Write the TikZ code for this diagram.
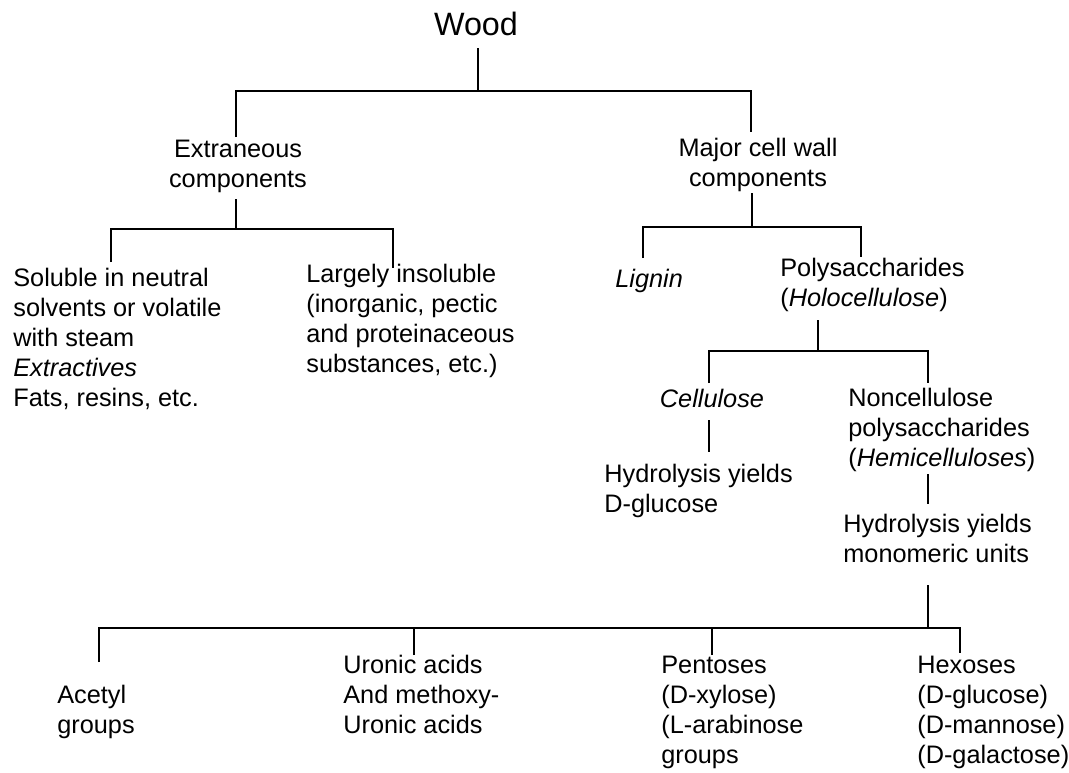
\documentclass[tikz,border=0pt]{standalone}
\usepackage{fontspec}
\setmainfont{Liberation Sans}
\usepackage{tikz}

\begin{document}
\begin{tikzpicture}[
    x=0.02cm, y=-0.02cm,
    % Style pour les textes alignés à gauche
    txtnode/.style={inner sep=0pt, anchor=north west, align=left, font=\fontsize{14.4}{17}\selectfont},
    % Style pour les textes centrés
    midnode/.style={txtnode, anchor=north, align=center},
    % Style pour les traits de liaison
    link/.style={draw, line width=1pt}
]
\useasboundingbox[fill=white] (0,0) rectangle (1069,772);

% Racine
\node[midnode, anchor=base, font=\fontsize{18.4}{21}\selectfont] (wood) at (476,35) {Wood};

% Premier niveau
\node[midnode] (extr) at (238,140) {Extraneous\\components};
\node[midnode] (major) at (758,138) {Major cell wall\\components};

% Composants extérieurs
\node[txtnode] (sol) at (13,268) {Soluble in neutral\\solvents or volatile\\with steam\\\textit{Extractives}\\Fats, resins, etc.};
\node[txtnode] (insol) at (306,264) {Largely insoluble\\(inorganic, pectic\\and proteinaceous\\substances, etc.)};

% Paroi cellulaire
\node[txtnode, anchor=base west] (lignin) at (615,287) {\textit{Lignin}};
\node[txtnode] (poly) at (780,258) {Polysaccharides\\(\textit{Holocellulose})};
\node[midnode, anchor=base] (cell) at (712,407) {\textit{Cellulose}};
\node[txtnode] (nonc) at (848,388) {Noncellulose\\polysaccharides\\(\textit{Hemicelluloses})};
\node[txtnode] (hydA) at (604,464) {Hydrolysis yields\\D-glucose};
\node[txtnode] (hydB) at (843,514) {Hydrolysis yields\\monomeric units};

% Unités monomères
\node[txtnode] (acet) at (57,685) {Acetyl\\groups};
\node[txtnode] (uron) at (343,655) {Uronic acids\\And methoxy-\\Uronic acids};
\node[txtnode] (pent) at (661,656) {Pentoses\\(D-xylose)\\(L-arabinose\\groups};
\node[txtnode] (hex) at (917,656) {Hexoses\\(D-glucose)\\(D-mannose)\\(D-galactose)};

% Points de branchement
\coordinate (wood-bot) at (478,48);
\coordinate (fork-a) at (478,91);
\coordinate (extr-top) at (236,137);
\coordinate (major-top) at (751,132);
\coordinate (extr-bot) at (236,199);
\coordinate (fork-b) at (236,229);
\coordinate (sol-top) at (111,262);
\coordinate (insol-top) at (393,268);
\coordinate (major-bot) at (752,193);
\coordinate (fork-c) at (752,227);
\coordinate (lignin-top) at (643,258);
\coordinate (poly-top) at (861,257);
\coordinate (poly-bot) at (818,320);
\coordinate (fork-d) at (818,351);
\coordinate (cell-top) at (709,383);
\coordinate (nonc-top) at (928,383);
\coordinate (cell-bot) at (709,420);
\coordinate (hydA-top) at (709,452);
\coordinate (nonc-bot) at (928,474);
\coordinate (hydB-top) at (928,504);
\coordinate (hydB-bot) at (928,585);
\coordinate (fork-e) at (928,628);
\coordinate (acet-top) at (99,662);
\coordinate (uron-top) at (414,655);
\coordinate (pent-top) at (712,655);
\coordinate (hex-top) at (960,653);

% Liaisons
\draw[link] (wood-bot) -- (fork-a);
\draw[link] (extr-top) |- (fork-a) -| (major-top);
\draw[link] (extr-bot) -- (fork-b);
\draw[link] (sol-top) |- (fork-b) -| (insol-top);
\draw[link] (major-bot) -- (fork-c);
\draw[link] (lignin-top) |- (fork-c) -| (poly-top);
\draw[link] (poly-bot) -- (fork-d);
\draw[link] (cell-top) |- (fork-d) -| (nonc-top);
\draw[link] (cell-bot) -- (hydA-top);
\draw[link] (nonc-bot) -- (hydB-top);
\draw[link] (hydB-bot) -- (fork-e);
\draw[link] (acet-top) |- (fork-e) -| (hex-top);
\draw[link] (uron-top) -- (uron-top |- fork-e);
\draw[link] (pent-top) -- (pent-top |- fork-e);

\end{tikzpicture}
\end{document}
